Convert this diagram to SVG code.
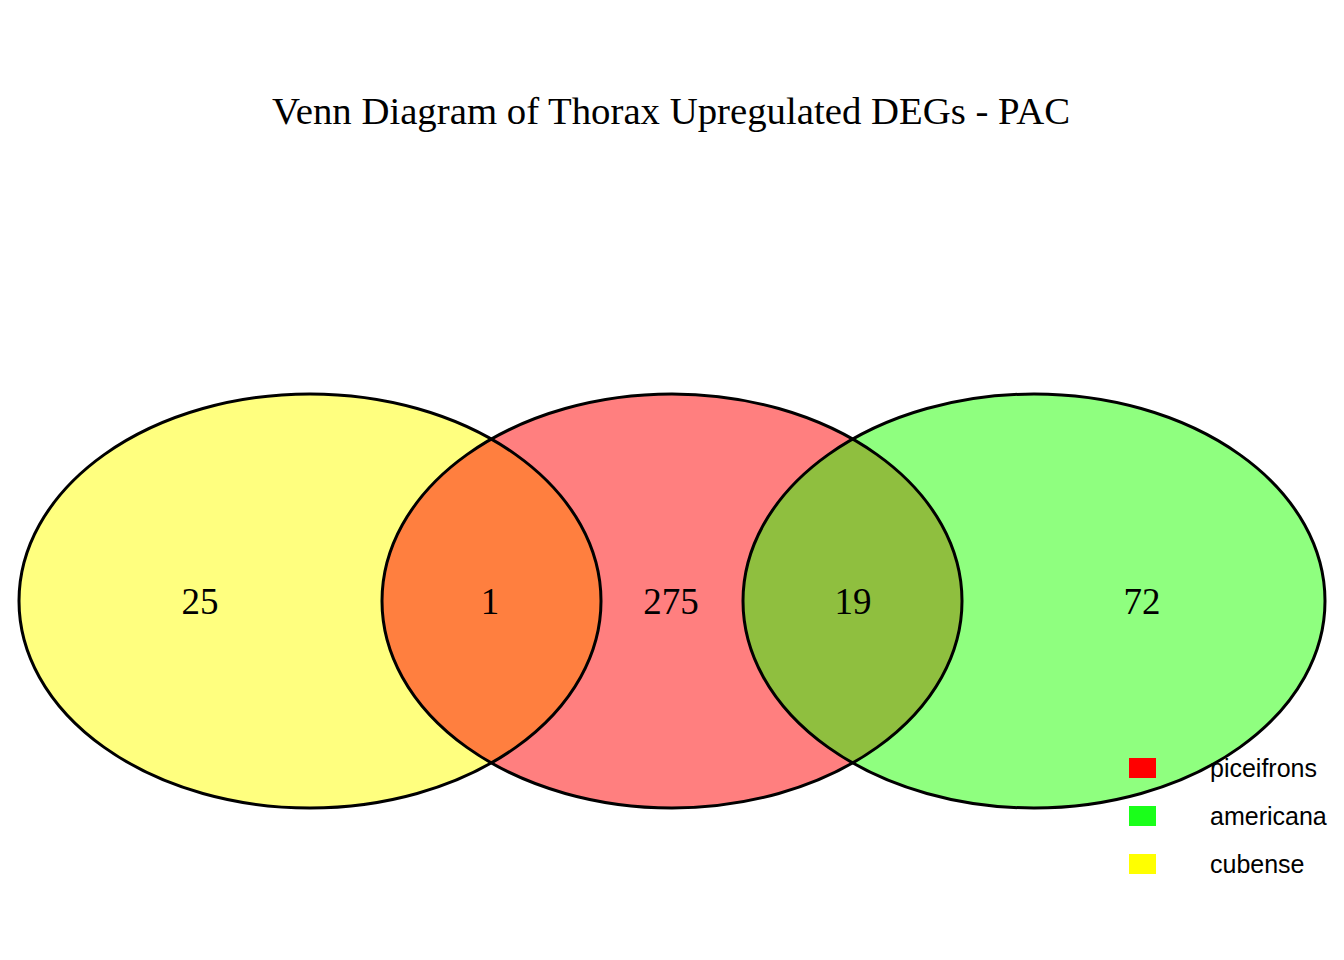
<svg xmlns="http://www.w3.org/2000/svg" width="1344" height="960" viewBox="0 0 1344 960">
<style>
.fill{stroke:none;fill-opacity:0.5}
.edge{stroke:#000;stroke-width:3;fill:none}
.num{font-family:"Liberation Serif","Times New Roman",serif;font-size:37px;text-anchor:middle;fill:#000}
.leg{font-family:"Liberation Sans",Arial,sans-serif;font-size:25px;fill:#000}
</style>
<rect width="1344" height="960" fill="#fff"/>
<text x="671" y="124" font-family="Liberation Serif, Times New Roman, serif" font-size="37" text-anchor="middle" textLength="798" lengthAdjust="spacingAndGlyphs">Venn Diagram of Thorax Upregulated DEGs - PAC</text>
<g id="sets">
<g id="cubense"><ellipse class="fill" cx="310" cy="601" rx="291" ry="207" fill="#FFFF00"/></g>
<g id="piceifrons"><ellipse class="fill" cx="672" cy="601" rx="290" ry="207" fill="#FF0000"/></g>
<g id="americana"><ellipse class="fill" cx="1034" cy="601" rx="291" ry="207" fill="#20FF00"/></g>
<g id="outlines">
<ellipse class="edge" cx="310" cy="601" rx="291" ry="207"/>
<ellipse class="edge" cx="672" cy="601" rx="290" ry="207"/>
<ellipse class="edge" cx="1034" cy="601" rx="291" ry="207"/>
</g>
</g>
<g id="counts">
<text class="num" x="200" y="614">25</text>
<text class="num" x="490" y="614">1</text>
<text class="num" x="671" y="614">275</text>
<text class="num" x="853" y="614">19</text>
<text class="num" x="1142" y="614">72</text>
</g>
<g id="legend">
<rect x="1129" y="758" width="27" height="20" fill="#FF0000"/>
<text class="leg" x="1210" y="777">piceifrons</text>
<rect x="1129" y="806" width="27" height="20" fill="#1AFF1A"/>
<text class="leg" x="1210" y="825">americana</text>
<rect x="1129" y="854" width="27" height="20" fill="#FFFF00"/>
<text class="leg" x="1210" y="873">cubense</text>
</g>
</svg>
